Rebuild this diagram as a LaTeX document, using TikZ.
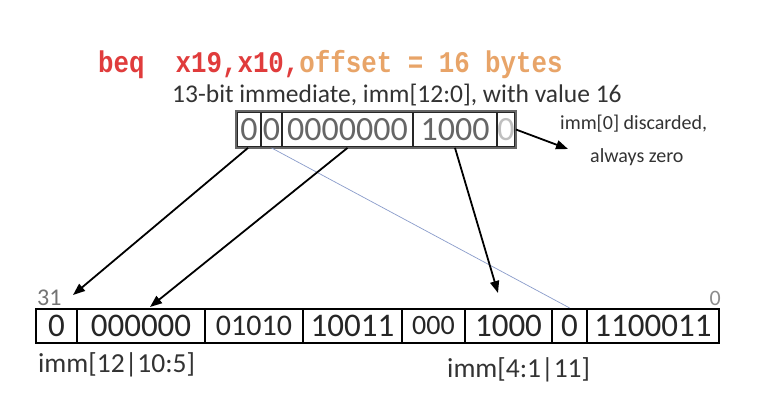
\documentclass[tikz,border=0pt]{standalone}
\usepackage{fontspec}
\setmainfont{Carlito}
\newfontfamily\codefont[FakeStretch=0.86]{Liberation Mono}
\usetikzlibrary{arrows.meta}
\definecolor{codered}{HTML}{E03C3C}
\definecolor{codeorange}{HTML}{E8A468}
\definecolor{txt}{HTML}{333333}
\definecolor{bluelink}{HTML}{8A9CCB}
\begin{document}
\begin{tikzpicture}[x=1pt,y=-1pt,
  topcell/.style={draw=black!85, line width=1.8pt, minimum height=35pt, inner sep=0pt, font=\fontsize{34}{34}\selectfont, text=black!60},
  botcell/.style={draw=black, line width=2.2pt, minimum height=34pt, inner sep=0pt, font=\fontsize{33}{33}\selectfont, text=black!85},
  ptr/.style={line width=1.8pt, -{Triangle[length=12pt,width=9pt]}},
  lbl/.style={anchor=base west, inner sep=0pt, text=txt}]
\fill[white] (0,0) rectangle (768,414);
\useasboundingbox (0,0) rectangle (768,414);

% title lines
\node[lbl] (title) at (98,73) {\codefont\bfseries\fontsize{30}{30}\selectfont\textcolor{codered}{beq\ \ x19,x10,}\textcolor{codeorange}{offset = 16 bytes}};
\node[lbl, font=\fontsize{25.5}{25.5}\selectfont] (sub) at (172,103) {13-bit immediate, imm[12:0], with value 16};

% top register
\node[topcell, minimum width=24pt]  (t12) at (249,129.5) {0};
\node[topcell, minimum width=21pt]  (t11) at (271.5,129.5) {0};
\node[topcell, minimum width=131pt] (t10) at (347.5,129.5) {0000000};
\node[topcell, minimum width=84pt]  (t4)  at (455,129.5) {1000};
\node[topcell, minimum width=18pt, text=black!25] (t0) at (506,129.5) {0};
\draw[black!60, line width=2pt] (t12.north west) rectangle (t0.south east);

\node[lbl, font=\fontsize{20}{20}\selectfont] (n1) at (560,130) {imm[0] discarded,};
\node[lbl, font=\fontsize{20}{20}\selectfont] (n2) at (590,163) {always zero};

% bottom instruction
\node[botcell, minimum width=41pt]  (b1) at (56.5,326) {0};
\node[botcell, minimum width=128pt] (b2) at (141,326) {000000};
\node[botcell, minimum width=98pt, font=\fontsize{30}{30}\selectfont] (b3) at (254,326) {\raisebox{-2.5pt}{01010}};
\node[botcell, minimum width=99pt]  (b4) at (352.5,326) {10011};
\node[botcell, minimum width=63pt, font=\fontsize{28}{28}\selectfont] (b5) at (433.5,326) {000};
\node[botcell, minimum width=87pt]  (b6) at (508.5,326) {1000};
\node[botcell, minimum width=35pt]  (b7) at (569.5,326) {0};
\node[botcell, minimum width=132pt] (b8) at (653,326) {1100011};

\node[lbl, text=black!55, font=\fontsize{24}{24}\selectfont] (h31) at (37,305) {31};
\node[anchor=base east, inner sep=0pt, text=black!45, font=\fontsize{22}{22}\selectfont] (h0) at (721,305) {0};

\node[lbl, font=\fontsize{27.5}{27.5}\selectfont] (l1) at (38,372) {imm[12|10:5]};
\node[lbl, font=\fontsize{27.5}{27.5}\selectfont] (l2) at (447,377) {imm[4:1|11]};

% connectors
\coordinate (e1) at (73,295);
\coordinate (e2) at (150,307);
\coordinate (e3) at (498,293);
\coordinate (e5) at (568,149);
\draw[bluelink, line width=0.7pt] (t11.south) -- (b7.north);
\draw[ptr] ([xshift=-1pt]t12.south) -- (e1);
\draw[ptr] (t10.south) -- (e2);
\draw[ptr] (t4.south) -- (e3);
\draw[ptr] (t0.east) -- (e5);
\end{tikzpicture}
\end{document}
